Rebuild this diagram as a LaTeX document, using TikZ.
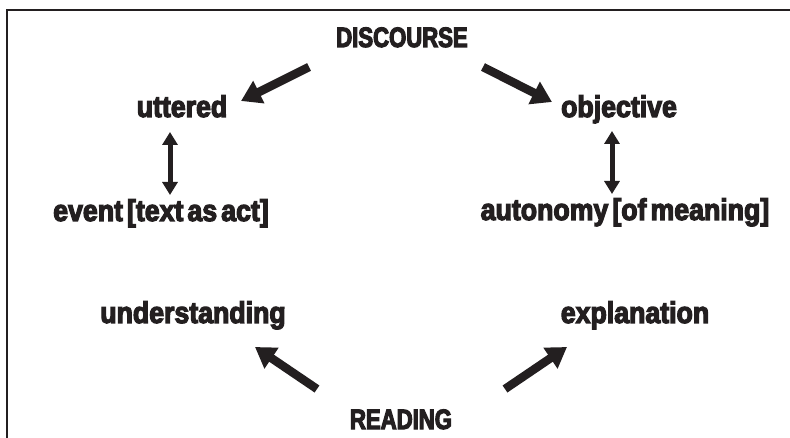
\documentclass[tikz,border=0pt]{standalone}
\usepackage{fontspec}
\setmainfont{Liberation Sans}
\newfontfamily\lowfont{Liberation Sans}[FakeStretch=0.89,FakeBold=4,WordSpace=0.55]
\newfontfamily\capfont{Liberation Sans}[FakeStretch=0.79,FakeBold=4]
\usetikzlibrary{arrows.meta}
\definecolor{ink}{HTML}{231F20}
\begin{document}
\begin{tikzpicture}[x=1pt,y=-1pt,
  lbl/.style={font=\lowfont\bfseries\fontsize{30}{30}\selectfont, inner sep=0pt, text=ink, anchor=base},
  capslbl/.style={font=\capfont\bfseries\fontsize{28}{28}\selectfont, inner sep=0pt, text=ink, anchor=base},
  bigarrow/.style={draw=ink, line width=8.5pt, -{Triangle[length=20pt,width=24pt]}},
  duoarrow/.style={draw=ink, line width=5pt, {Triangle[length=13pt,width=15pt]}-{Triangle[length=13pt,width=15pt]}},
  frame/.style={draw=ink, line width=2pt}]
\useasboundingbox (0,0) rectangle (790,438);
\draw[frame] (7,438) -- (7,10) -- (790,10);
\node[capslbl] (disc) at (402,47) {DISCOURSE};
\node[lbl] (utt) at (182,117) {uttered};
\node[lbl] (obj) at (619,117) {objective};
\node[lbl] (evt) at (161,221) {event [text as act]};
\node[lbl] (aut) at (625,220) {autonomy [of meaning]};
\node[lbl] (und) at (193,323) {understanding};
\node[lbl] (exp) at (635,323) {explanation};
\node[capslbl] (read) at (401,429) {READING};
\draw[bigarrow] ([shift={(-93,20)}]disc.base) -- ([shift={(59,-16)}]utt.base);
\draw[bigarrow] ([shift={(81,20)}]disc.base) -- ([shift={(-67,-15)}]obj.base);
\draw[duoarrow] ([shift={(-12,15)}]utt.base) -- ([shift={(9,-26)}]evt.base);
\draw[duoarrow] ([shift={(-7,14)}]obj.base) -- ([shift={(-13,-26)}]aut.base);
\draw[bigarrow] ([shift={(-84,-40)}]read.base) -- ([shift={(62,24)}]und.base);
\draw[bigarrow] ([shift={(104,-40)}]read.base) -- ([shift={(-68,24)}]exp.base);
\end{tikzpicture}
\end{document}
